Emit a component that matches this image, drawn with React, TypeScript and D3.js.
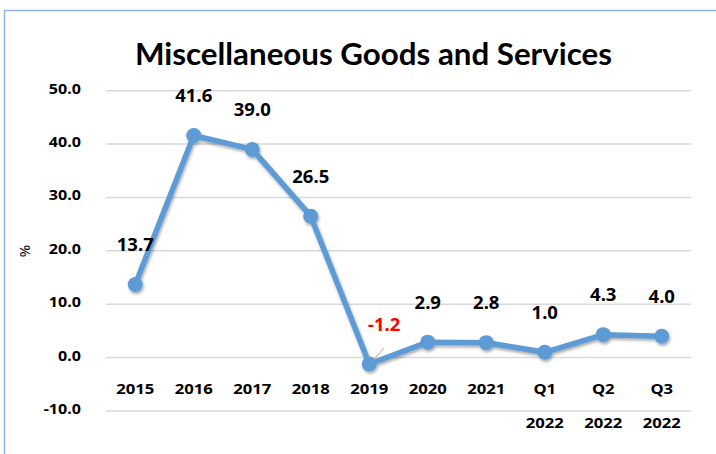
import React from "react";
import * as d3 from "d3";

const categories = ["2015", "2016", "2017", "2018", "2019", "2020", "2021", "Q1 2022", "Q2 2022", "Q3 2022"];
const values = [13.7, 41.6, 39.0, 26.5, -1.2, 2.9, 2.8, 1.0, 4.3, 4.0];
const yTicks = [-10, 0, 10, 20, 30, 40, 50];
const title = "Miscellaneous Goods and Services";
const yTitle = "%";

const W = 716;
const H = 454;
const LABEL_FONT = "'Noto Sans', 'Open Sans', sans-serif";

const locale = d3.formatLocale({ decimal: ".", thousands: ",", grouping: [3], currency: ["", ""], minus: "-" });
const fmt = locale.format(".1f");

export default function App() {
  const x = d3.scaleBand<string>().domain(categories).range([106, 691]);
  const y = d3.scaleLinear().domain([-10, 50]).range([411, 90.7]);
  const cx = (c: string) => (x(c) as number) + x.bandwidth() / 2;
  const line = d3
    .line<number>()
    .x((_, i) => cx(categories[i]))
    .y((d) => y(d));

  return (
    <svg
      width={W}
      height={H}
      style={{ position: "absolute", left: 0, top: 0, background: "#fff" }}
    >
      <defs>
        <filter id="shadow" x="-20%" y="-20%" width="140%" height="140%">
          <feDropShadow dx="1" dy="2" stdDeviation="1.5" floodColor="#000" floodOpacity="0.35" />
        </filter>
      </defs>
      <rect x={0} y={0} width={W} height={H} fill="#fff" />
      {/* chart border */}
      <path d={`M4.5,${H} L4.5,10.5 L${W},10.5`} fill="none" stroke="#8eb4e3" strokeWidth={1.5} />

      <text
        x={373.5}
        y={65}
        textAnchor="middle"
        fontFamily="Lato, 'Open Sans', sans-serif"
        fontWeight={700}
        fontSize={30}
        textLength={477}
        lengthAdjust="spacingAndGlyphs"
        fill="#000"
      >
        {title}
      </text>

      {/* gridlines */}
      {yTicks.map((t) => (
        <line key={t} x1={106} x2={691} y1={y(t)} y2={y(t)} stroke="#d9d9d9" strokeWidth={1.5} />
      ))}

      {/* y tick labels */}
      {yTicks.map((t) => (
        <text
          key={"l" + t}
          transform={`translate(81,${y(t) + 3}) scale(1.15,1)`}
          textAnchor="end"
          fontFamily={LABEL_FONT}
          fontWeight={700}
          fontSize={14}
          fill="#000"
        >
          {fmt(t)}
        </text>
      ))}

      <text
        transform={`translate(30,251) rotate(-90)`}
        textAnchor="middle"
        fontFamily={LABEL_FONT}
        fontSize={15}
        fill="#000"
      >
        {yTitle}
      </text>

      {/* x labels */}
      {categories.map((c) => {
        const parts = c.split(" ");
        return parts.map((p, i) => (
          <text
            key={"x" + c + i}
            transform={`translate(${cx(c)},${394 + i * 34}) scale(1.15,1)`}
            textAnchor="middle"
            fontFamily={LABEL_FONT}
            fontWeight={700}
            fontSize={14.5}
            fill="#000"
          >
            {p}
          </text>
        ));
      })}

      {/* line and markers */}
      <g filter="url(#shadow)">
        <path d={line(values) as string} fill="none" stroke="#5b9bd5" strokeWidth={5.5} strokeLinejoin="round" />
        {values.map((v, i) => (
          <circle key={i} cx={cx(categories[i])} cy={y(v)} r={7.5} fill="#5b9bd5" />
        ))}
      </g>

      {/* leader lines for negative labels */}
      {values.map((v, i) =>
        v < 0 ? (
          <line
            key={"ld" + i}
            x1={cx(categories[i]) + 2}
            y1={y(v) - 2}
            x2={cx(categories[i]) + 15}
            y2={y(v) - 16}
            stroke="#a6a6a6"
            strokeWidth={1}
          />
        ) : null
      )}

      {/* data labels */}
      {values.map((v, i) => (
        <text
          key={"d" + i}
          transform={`translate(${cx(categories[i]) + (v < 0 ? 15 : 0)},${y(v) - 33.5}) scale(1.06,1)`}
          textAnchor="middle"
          fontFamily={LABEL_FONT}
          fontWeight={700}
          fontSize={17.5}
          fill={v < 0 ? "#ff0000" : "#000"}
        >
          {fmt(v)}
        </text>
      ))}
    </svg>
  );
}
